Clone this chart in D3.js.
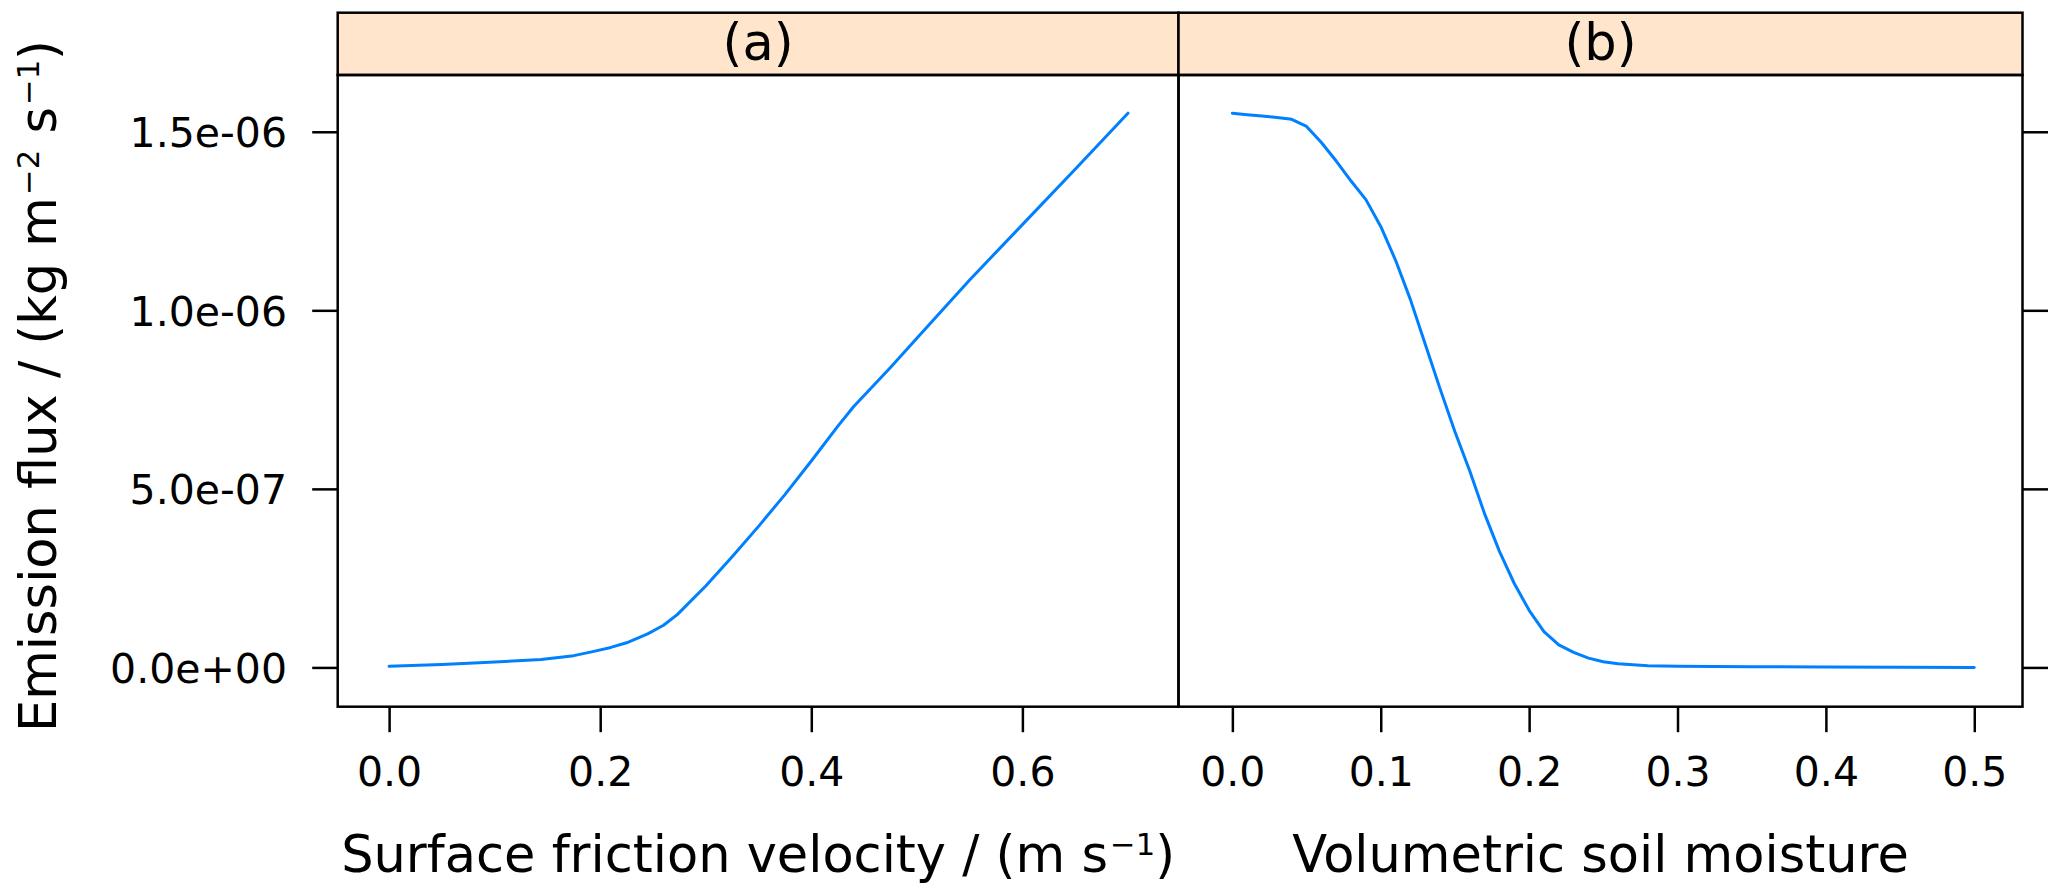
<!DOCTYPE html>
<html>
<head>
<meta charset="utf-8">
<script src="https://cdn.jsdelivr.net/npm/d3@7/dist/d3.min.js"></script>
<style>
  html, body { margin: 0; padding: 0; background: #ffffff; }
  svg { display: block; font-family: "DejaVu Sans", sans-serif; }
</style>
</head>
<body>
<svg id="chart" width="2067" height="894"></svg>
<script>
// ---------------- data ----------------
const panelLabels = ["(a)", "(b)"];
const xTitles = ["Surface friction velocity / (m s", "Volumetric soil moisture"];

// panel (a): surface friction velocity (m s-1) vs emission flux (1e-6 kg m-2 s-1)
const ustar = [0, 0.05, 0.1, 0.144, 0.175, 0.194, 0.21, 0.225, 0.245, 0.26, 0.273,
               0.3, 0.325, 0.35, 0.375, 0.4, 0.425, 0.44, 0.475, 0.5, 0.55, 0.6, 0.65, 0.7];
const fluxA = [0.003, 0.008, 0.015, 0.022, 0.033, 0.045, 0.056, 0.069, 0.094, 0.118, 0.148,
               0.228, 0.31, 0.395, 0.484, 0.578, 0.675, 0.73, 0.84, 0.922, 1.085, 1.24, 1.395, 1.552];

// panel (b): volumetric soil moisture vs emission flux (1e-6 kg m-2 s-1)
const moisture = [0, 0.01, 0.02, 0.03, 0.04, 0.05, 0.06, 0.07, 0.08, 0.09, 0.10, 0.11, 0.12,
                  0.13, 0.14, 0.15, 0.16, 0.17, 0.18, 0.19, 0.20, 0.21, 0.22, 0.23, 0.24,
                  0.25, 0.26, 0.28, 0.30, 0.35, 0.40, 0.45, 0.50];
const fluxB = [1.552, 1.548, 1.544, 1.540, 1.535, 1.515, 1.47, 1.418, 1.362, 1.31, 1.235, 1.14, 1.03,
               0.905, 0.78, 0.66, 0.55, 0.43, 0.325, 0.235, 0.16, 0.10, 0.063, 0.042, 0.026,
               0.016, 0.010, 0.005, 0.003, 0.002, 0.001, 0.0005, 0.0];

const xTicksA = [0, 0.2, 0.4, 0.6];
const xTicksB = [0, 0.1, 0.2, 0.3, 0.4, 0.5];
const yTicks = [0, 0.5, 1.0, 1.5];
const yTickLabels = ["0.0e+00", "5.0e-07", "1.0e-06", "1.5e-06"];

// ---------------- layout ----------------
const svg = d3.select("#chart");
const stripTop = 12.7, stripBottom = 75, plotBottom = 706.7;
const aLeft = 337.7, mid = 1178.5, bRight = 2022.5;
const tickLen = 25.5;
const lineColor = "#0080ff";
const stripFill = "#ffe5cc";
const tickFont = 41, titleFont = 51;

const y = d3.scaleLinear().domain([-0.110, 1.659]).range([plotBottom, stripBottom]);
const xA = d3.scaleLinear().domain([-0.0487, 0.7479]).range([aLeft, mid]);
const xB = d3.scaleLinear().domain([-0.0363, 0.5325]).range([mid, bRight]);

const panels = [
  {x: xA, xs: ustar, ys: fluxA, ticks: xTicksA, label: panelLabels[0]},
  {x: xB, xs: moisture, ys: fluxB, ticks: xTicksB, label: panelLabels[1]}
];

panels.forEach((p, i) => {
  const [x0, x1] = p.x.range();
  // strip
  svg.append("rect").attr("x", x0).attr("y", stripTop).attr("width", x1 - x0)
     .attr("height", stripBottom - stripTop).attr("fill", stripFill)
     .attr("stroke", "#000").attr("stroke-width", 2.5);
  svg.append("text").attr("x", (x0 + x1) / 2).attr("y", 60)
     .attr("text-anchor", "middle").attr("font-size", titleFont).text(p.label);

  // curve
  const pts = p.xs.map((v, k) => [v, p.ys[k]]);
  svg.append("path").datum(pts)
     .attr("fill", "none").attr("stroke", lineColor).attr("stroke-width", 3)
     .attr("stroke-linejoin", "round").attr("stroke-linecap", "round")
     .attr("d", d3.line().x(d => p.x(d[0])).y(d => y(d[1])));

  // panel frame
  svg.append("rect").attr("x", x0).attr("y", stripBottom).attr("width", x1 - x0)
     .attr("height", plotBottom - stripBottom).attr("fill", "none")
     .attr("stroke", "#000").attr("stroke-width", 2.5);

  // x axis
  const gx = svg.append("g").attr("transform", `translate(0,${plotBottom})`)
     .call(d3.axisBottom(p.x).tickValues(p.ticks).tickSize(tickLen).tickFormat(d3.format(".1f")));
  gx.select(".domain").remove();
  gx.selectAll("line").attr("stroke", "#000").attr("stroke-width", 2.5);
  gx.selectAll("text").attr("y", 79).attr("dy", null)
     .attr("font-size", tickFont).attr("font-family", "DejaVu Sans").attr("fill", "#000");
});

// y axis left (panel a) with labels
const gyL = svg.append("g").attr("transform", `translate(${aLeft},0)`)
   .call(d3.axisLeft(y).tickValues(yTicks).tickSize(tickLen)
        .tickFormat((d, i) => yTickLabels[i]));
gyL.select(".domain").remove();
gyL.selectAll("line").attr("stroke", "#000").attr("stroke-width", 2.5);
gyL.selectAll("text").attr("x", -50.7).attr("dy", "0.36em")
   .attr("font-size", tickFont).attr("font-family", "DejaVu Sans").attr("fill", "#000");

// y axis right (panel b) ticks only
const gyR = svg.append("g").attr("transform", `translate(${bRight},0)`)
   .call(d3.axisRight(y).tickValues(yTicks).tickSize(tickLen).tickFormat(() => ""));
gyR.select(".domain").remove();
gyR.selectAll("line").attr("stroke", "#000").attr("stroke-width", 2.5);

// ---------------- titles ----------------
function sup(textSel, s, fs) {
  textSel.append("tspan").attr("font-size", fs * 0.6).attr("dx", fs * 0.04)
     .attr("dy", -fs * 0.33).text(s);
  return textSel;
}
function back(textSel, s, fs) {
  textSel.append("tspan").attr("font-size", fs).attr("dy", fs * 0.33).text(s);
}

const tA = svg.append("text").attr("x", (aLeft + mid) / 2).attr("y", 871.7)
   .attr("text-anchor", "middle").attr("font-size", titleFont);
tA.append("tspan").text(xTitles[0]);
sup(tA, "\u22121", titleFont);
back(tA, ")", titleFont);

svg.append("text").attr("x", (mid + bRight) / 2).attr("y", 871.7)
   .attr("text-anchor", "middle").attr("font-size", titleFont).text(xTitles[1]);

const tY = svg.append("text").attr("transform", "translate(56,386) rotate(-90)")
   .attr("text-anchor", "middle").attr("font-size", titleFont);
tY.append("tspan").text("Emission flux / (kg m");
sup(tY, "\u22122", titleFont);
back(tY, " s", titleFont);
sup(tY, "\u22121", titleFont);
back(tY, ")", titleFont);
</script>
</body>
</html>
